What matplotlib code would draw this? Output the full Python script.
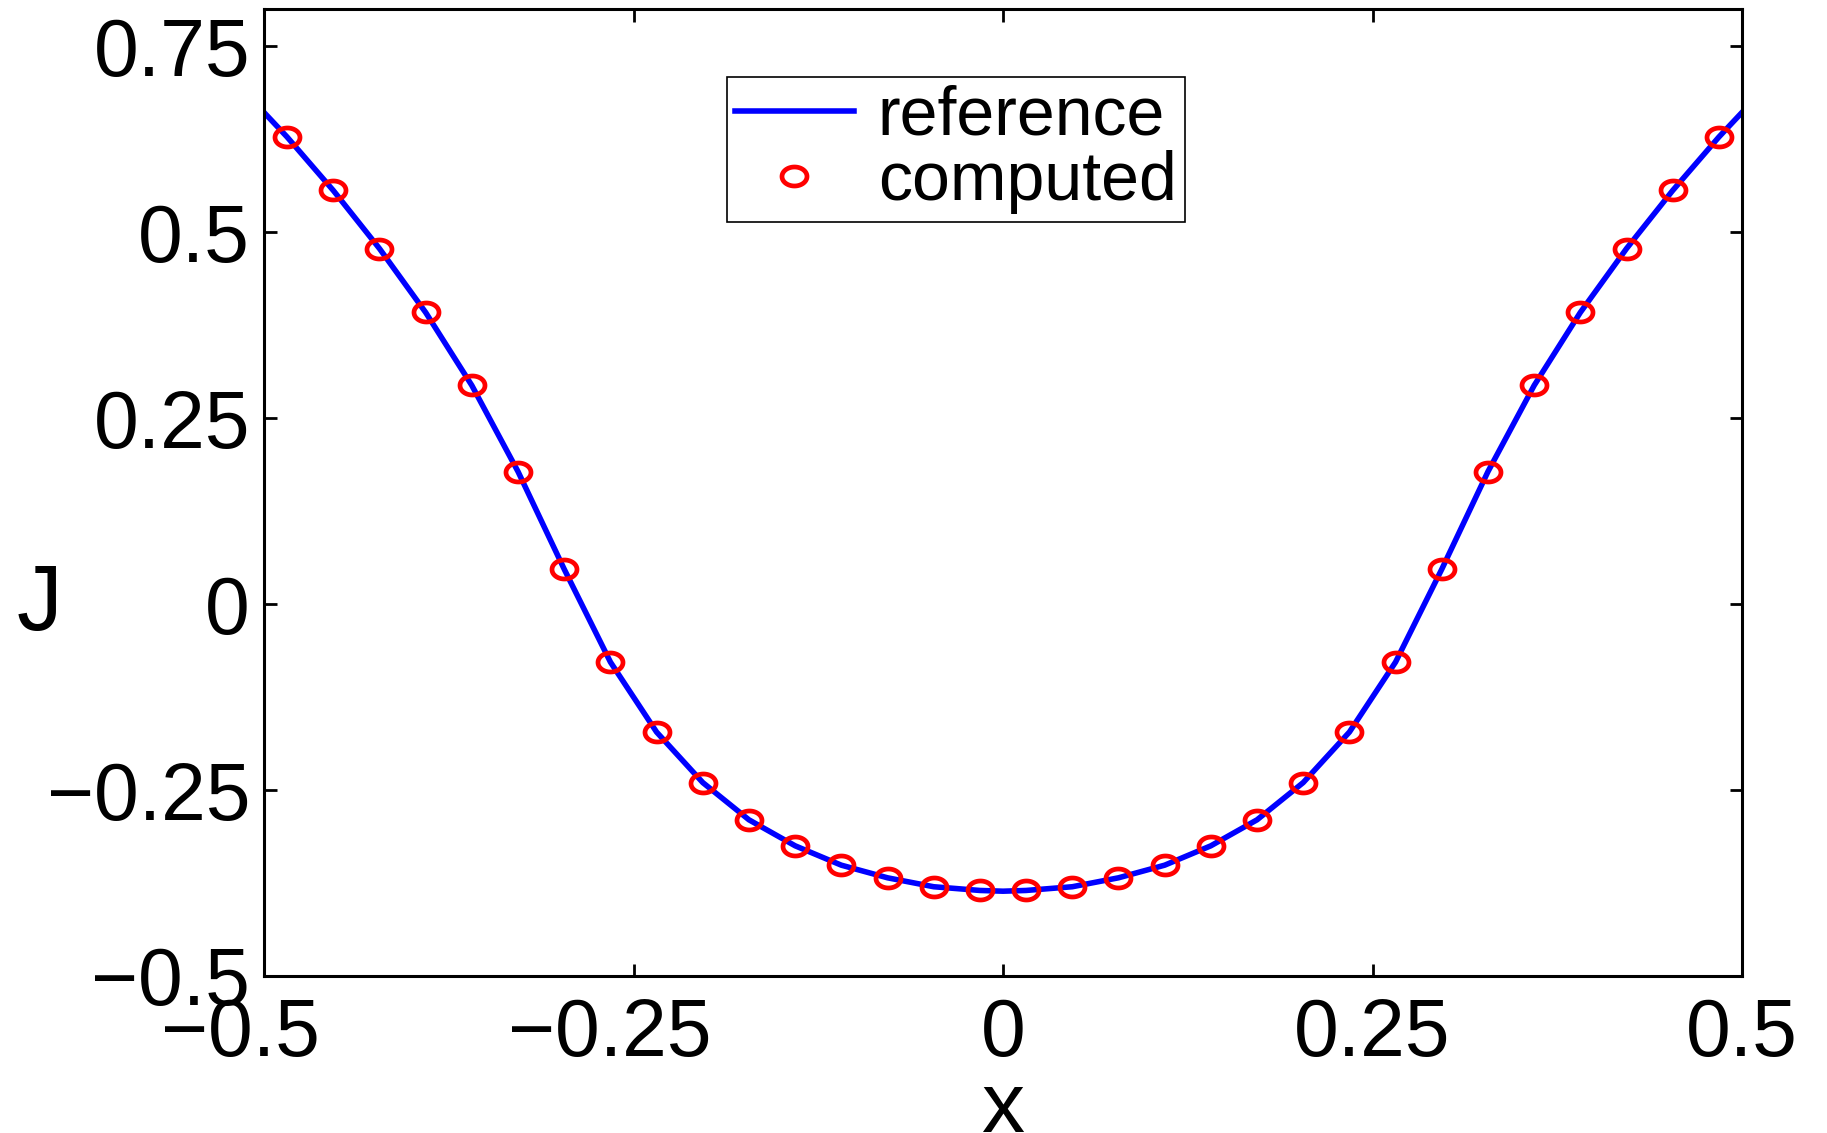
import numpy as np
import matplotlib
matplotlib.use("Agg")
import matplotlib.pyplot as plt
from matplotlib.path import Path
from matplotlib.transforms import ScaledTranslation

plt.rcParams['font.family'] = ['Liberation Sans', 'DejaVu Sans']

# ---- data ----
computed_x = [-0.4844, -0.4531, -0.4219, -0.3906, -0.3594, -0.3281, -0.2969, -0.2656,
              -0.2344, -0.2031, -0.1719, -0.1406, -0.1094, -0.0781, -0.0469, -0.0156,
              0.0156, 0.0469, 0.0781, 0.1094, 0.1406, 0.1719, 0.2031, 0.2344,
              0.2656, 0.2969, 0.3281, 0.3594, 0.3906, 0.4219, 0.4531, 0.4844]
computed_y = [0.628, 0.556, 0.478, 0.392, 0.294, 0.178, 0.047, -0.078,
              -0.172, -0.240, -0.290, -0.325, -0.351, -0.368, -0.380, -0.385,
              -0.385, -0.380, -0.368, -0.351, -0.325, -0.290, -0.240, -0.172,
              -0.078, 0.047, 0.178, 0.294, 0.392, 0.478, 0.556, 0.628]

reference_x = [-0.5, -0.4844, -0.4531, -0.4219, -0.3906, -0.3594, -0.3281, -0.2969, -0.2656,
               -0.2344, -0.2031, -0.1719, -0.1406, -0.1094, -0.0781, -0.0469, -0.0156, 0.0,
               0.0156, 0.0469, 0.0781, 0.1094, 0.1406, 0.1719, 0.2031, 0.2344,
               0.2656, 0.2969, 0.3281, 0.3594, 0.3906, 0.4219, 0.4531, 0.4844, 0.5]
reference_y = [0.661, 0.628, 0.556, 0.478, 0.392, 0.294, 0.178, 0.047, -0.078,
               -0.172, -0.240, -0.290, -0.325, -0.351, -0.368, -0.380, -0.385, -0.386,
               -0.385, -0.380, -0.368, -0.351, -0.325, -0.290, -0.240, -0.172,
               -0.078, 0.047, 0.178, 0.294, 0.392, 0.478, 0.556, 0.628, 0.661]

x_ticks = [-0.5, -0.25, 0, 0.25, 0.5]
x_ticklabels = ['\u22120.5', '\u22120.25', '0', '0.25', '0.5']
y_ticks = [-0.5, -0.25, 0, 0.25, 0.5, 0.75]
y_ticklabels = ['\u22120.5', '\u22120.25', '0', '0.25', '0.5', '0.75']
series_labels = ['reference', 'computed']

# ---- figure ----
fig = plt.figure(figsize=(18.27, 11.33), dpi=100)
ax = fig.add_axes([264 / 1827, 1 - 976 / 1133, (1742 - 264) / 1827, (976 - 9) / 1133])

theta = np.linspace(0, 2 * np.pi, 73)
ellipse = Path(np.column_stack([np.cos(theta), 0.76 * np.sin(theta)]), closed=True)

line_ref, = ax.plot(reference_x, reference_y, color=(0, 0, 1), lw=4.0,
                    label=series_labels[0], zorder=2)
line_cmp, = ax.plot(computed_x, computed_y, linestyle='none', marker=ellipse,
                    markersize=18, markerfacecolor='none', markeredgecolor=(1, 0, 0),
                    markeredgewidth=3.4, label=series_labels[1], zorder=3)

ax.set_xlim(-0.5, 0.5)
ax.set_ylim(-0.5, 0.8)

TICKFS = 58
ax.set_xticks(x_ticks)
ax.set_xticklabels(x_ticklabels)
ax.set_yticks(y_ticks)
ax.set_yticklabels(y_ticklabels)
ax.tick_params(axis='both', which='both', direction='in', top=True, right=True,
               length=9, width=2.0, labelsize=TICKFS, colors='black')
ax.tick_params(axis='x', pad=15)
ax.tick_params(axis='y', pad=10)
for sp in ax.spines.values():
    sp.set_linewidth(2.2)
    sp.set_color('black')

# centre the negative x labels on their digits (minus hangs to the left)
shift = ScaledTranslation(-0.292 * TICKFS / 72, 0, fig.dpi_scale_trans)
for lab, txt in zip(ax.get_xticklabels(), x_ticklabels):
    if txt.startswith('\u2212'):
        lab.set_transform(lab.get_transform() + shift)

ax.set_xlabel('x', fontsize=62)
ax.xaxis.set_label_coords(0.5, -0.139)
ax.xaxis.label.set_va('center')
ax.set_ylabel('J', fontsize=66, rotation=0)
ax.yaxis.set_label_coords(-0.152, 0.383)
ax.yaxis.label.set_va('center')
ax.yaxis.label.set_ha('center')

leg = ax.legend(handles=[line_ref, line_cmp], loc='upper center',
                bbox_to_anchor=(0.468, 0.93), fontsize=49, numpoints=1,
                frameon=True, fancybox=False, framealpha=1, edgecolor='black',
                handlelength=1.75, handletextpad=0.35, labelspacing=0.02,
                borderpad=0.12, borderaxespad=0)
leg.get_frame().set_linewidth(1.2)

fig.savefig('out.png', dpi=100, facecolor='white')
